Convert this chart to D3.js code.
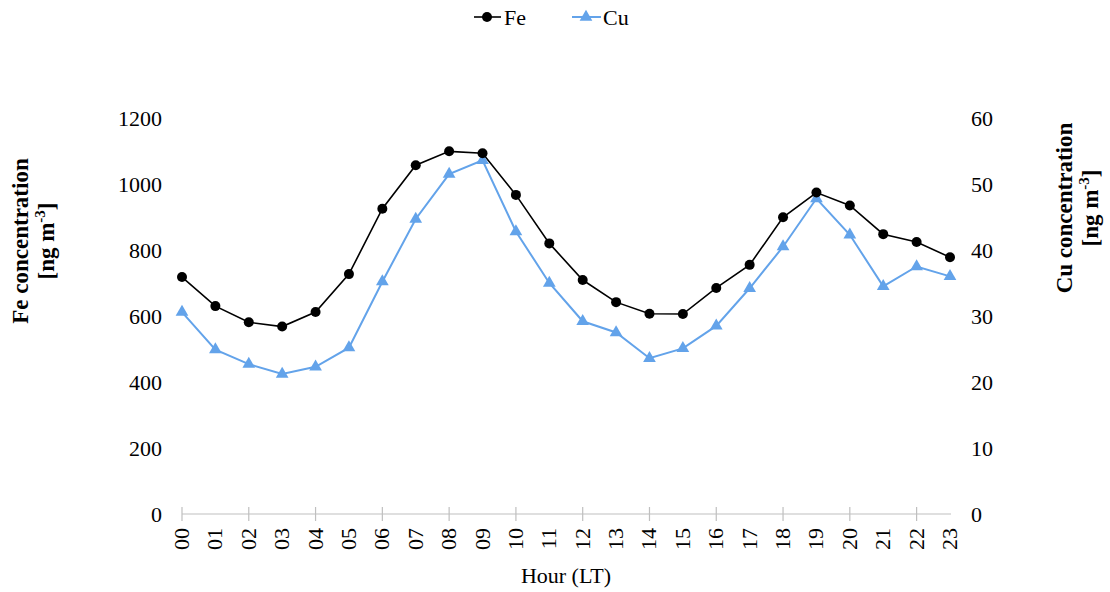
<!DOCTYPE html>
<html><head><meta charset="utf-8">
<script src="https://cdn.jsdelivr.net/npm/d3@7/dist/d3.min.js"></script>
<style>body{margin:0;background:#fff}svg{display:block}text{font-family:"Liberation Serif","Times New Roman",serif;fill:#000}</style>
</head><body><svg id="c" width="1110" height="592"></svg>
<script>
const hours = ["00","01","02","03","04","05","06","07","08","09","10","11","12","13","14","15","16","17","18","19","20","21","22","23"];
const feValues = [718,630,581,568,612,727,925,1057,1099,1093,967,820,709,642,607,606,685,755,899,974,935,848,824,778];
const cuValues = [30.6,24.9,22.7,21.2,22.3,25.2,35.2,44.7,51.5,53.6,42.8,35.0,29.2,27.5,23.6,25.1,28.5,34.2,40.5,47.8,42.3,34.5,37.5,36.0];
const feTicks = [0,200,400,600,800,1000,1200];
const cuTicks = [0,10,20,30,40,50,60];

const svg = d3.select("#c");
const x = d3.scalePoint().domain(hours).range([182, 950]);
const yL = d3.scaleLinear().domain([0,1200]).range([514,118]);
const yR = d3.scaleLinear().domain([0,60]).range([514,118]);
const feColor = "#000000", cuColor = "#63a3ea";

// x axis line
svg.append("line").attr("x1",x("00")).attr("x2",x("23")+1).attr("y1",514).attr("y2",514)
  .attr("stroke","#bfbfbf").attr("stroke-width",1.2);
svg.selectAll(".xt").data(hours.filter((d,i)=>i%2===0)).enter().append("line")
  .attr("x1",d=>x(d)).attr("x2",d=>x(d)).attr("y1",507).attr("y2",521)
  .attr("stroke","#bfbfbf").attr("stroke-width",1.2);
svg.selectAll(".xl").data(hours).enter().append("text")
  .attr("transform",d=>`translate(${x(d)+7},528) rotate(-90)`)
  .attr("text-anchor","end").attr("font-size",22).text(d=>d);

// y axes labels
svg.selectAll(".yl").data(feTicks).enter().append("text")
  .attr("x",162).attr("y",d=>yL(d)).attr("dy","0.35em").attr("text-anchor","end")
  .attr("font-size",22).text(d=>d);
svg.selectAll(".yr").data(cuTicks).enter().append("text")
  .attr("x",971).attr("y",d=>yR(d)).attr("dy","0.35em").attr("text-anchor","start")
  .attr("font-size",22).text(d=>d);

// axis titles
function title(cx, cy, l1, gap){
  const g = svg.append("g").attr("transform",`translate(${cx},${cy}) rotate(-90)`);
  g.append("text").attr("text-anchor","middle").attr("font-weight","bold").attr("font-size",23)
    .attr("y",0).text(l1);
  const t = g.append("text").attr("text-anchor","middle").attr("font-weight","bold").attr("font-size",23)
    .attr("y",gap);
  t.append("tspan").text("[ng m");
  t.append("tspan").attr("font-size",15).attr("dy",-9).text("-3");
  t.append("tspan").attr("dy",9).text("]");
}
title(28, 241, "Fe concentration", 26);
title(1072, 208, "Cu concentration", 26);

svg.append("text").attr("x",566).attr("y",583).attr("text-anchor","middle").attr("font-size",22).text("Hour (LT)");

// lines
const lineFe = d3.line().x((d,i)=>x(hours[i])).y(d=>yL(d));
const lineCu = d3.line().x((d,i)=>x(hours[i])).y(d=>yR(d));
svg.append("path").attr("d",lineCu(cuValues)).attr("fill","none").attr("stroke",cuColor).attr("stroke-width",2);
svg.append("path").attr("d",lineFe(feValues)).attr("fill","none").attr("stroke",feColor).attr("stroke-width",1.6);
const tri = d3.symbol().type(d3.symbolTriangle).size(70);
svg.selectAll(".cm").data(cuValues).enter().append("path")
  .attr("d",tri).attr("transform",(d,i)=>`translate(${x(hours[i])},${yR(d)})`).attr("fill",cuColor);
svg.selectAll(".fm").data(feValues).enter().append("circle")
  .attr("cx",(d,i)=>x(hours[i])).attr("cy",d=>yL(d)).attr("r",5).attr("fill",feColor);

// legend
svg.append("line").attr("x1",474).attr("x2",501).attr("y1",17).attr("y2",17).attr("stroke",feColor).attr("stroke-width",1.6);
svg.append("circle").attr("cx",487).attr("cy",17).attr("r",5).attr("fill",feColor);
svg.append("text").attr("x",504).attr("y",17).attr("dy","0.35em").attr("font-size",22).text("Fe");
svg.append("line").attr("x1",572).attr("x2",601).attr("y1",17).attr("y2",17).attr("stroke",cuColor).attr("stroke-width",2);
svg.append("path").attr("d",tri).attr("transform","translate(586,17)").attr("fill",cuColor);
svg.append("text").attr("x",603).attr("y",17).attr("dy","0.35em").attr("font-size",22).text("Cu");
</script></body></html>
